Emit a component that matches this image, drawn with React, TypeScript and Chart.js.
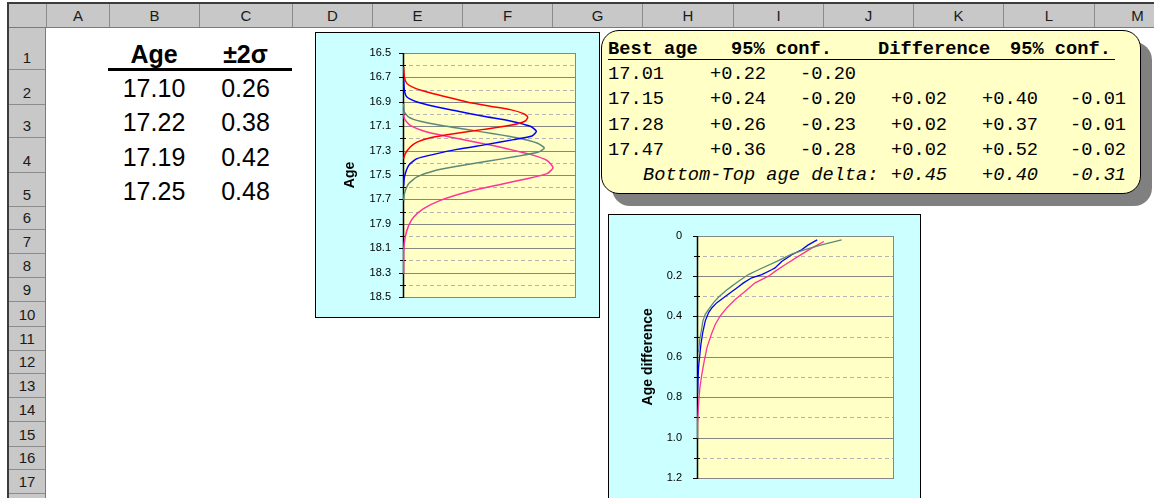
import React, { useEffect, useRef } from "react";
import { Chart, registerables } from "chart.js";

Chart.register(...registerables);

// ---------------- spreadsheet frame ----------------
const columnLetters = ["A", "B", "C", "D", "E", "F", "G", "H", "I", "J", "K", "L", "M"];
const rowNumbers = [1, 2, 3, 4, 5, 6, 7, 8, 9, 10, 11, 12, 13, 14, 15, 16, 17, 18];

// ---------------- left table ----------------
const tableHeaders = ["Age", "±2σ"];
const tableAges = ["17.10", "17.22", "17.19", "17.25"];
const tableSigmas = ["0.26", "0.38", "0.42", "0.48"];

// ---------------- text box ----------------
const boxHeaders = ["Best age", "95% conf.", "Difference", "95% conf."];
const bestAges = ["17.01", "17.15", "17.28", "17.47"];
const confPlus = ["+0.22", "+0.24", "+0.26", "+0.36"];
const confMinus = ["-0.20", "-0.20", "-0.23", "-0.28"];
const differences = ["", "+0.02", "+0.02", "+0.02"];
const diffConfPlus = ["", "+0.40", "+0.37", "+0.52"];
const diffConfMinus = ["", "-0.01", "-0.01", "-0.02"];
const deltaLabel = "Bottom-Top age delta:";
const deltaValues = ["+0.45", "+0.40", "-0.31"];

// ---------------- chart 1: age distributions ----------------
const ageAxisMin = 16.5;
const ageAxisMax = 18.5;
const ageAxisStep = 0.2;
const ageAxisTitle = "Age";

const redDensity = [0.004, 0.008, 0.023, 0.062, 0.139, 0.235, 0.37, 0.505, 0.62, 0.697, 0.721, 0.707, 0.62, 0.466, 0.293, 0.158, 0.081, 0.042, 0.013, 0.004];
const redAge = [16.615, 16.697, 16.751, 16.784, 16.82, 16.855, 16.902, 16.937, 16.964, 16.997, 17.025, 17.057, 17.093, 17.126, 17.161, 17.194, 17.23, 17.27, 17.325, 17.366];

const blueDensity = [0.004, 0.008, 0.023, 0.081, 0.177, 0.312, 0.466, 0.62, 0.736, 0.771, 0.746, 0.64, 0.486, 0.312, 0.177, 0.081, 0.033, 0.008, 0.004];
const blueAge = [16.71, 16.806, 16.861, 16.902, 16.937, 16.975, 17.019, 17.057, 17.101, 17.142, 17.18, 17.21, 17.249, 17.29, 17.331, 17.366, 17.421, 17.516, 17.585];

const greenDensity = [0.004, 0.008, 0.033, 0.1, 0.216, 0.37, 0.524, 0.659, 0.775, 0.817, 0.784, 0.659, 0.486, 0.312, 0.177, 0.081, 0.033, 0.008, 0.004];
const greenAge = [16.915, 16.984, 17.025, 17.06, 17.093, 17.128, 17.161, 17.194, 17.238, 17.279, 17.311, 17.347, 17.388, 17.429, 17.467, 17.516, 17.571, 17.653, 17.708];

const pinkDensity = [0.004, 0.008, 0.042, 0.139, 0.293, 0.466, 0.601, 0.736, 0.832, 0.867, 0.832, 0.717, 0.563, 0.37, 0.216, 0.119, 0.062, 0.033, 0.013, 0.004, 0.004];
const pinkAge = [16.97, 17.038, 17.093, 17.148, 17.194, 17.243, 17.284, 17.331, 17.38, 17.44, 17.489, 17.53, 17.577, 17.639, 17.708, 17.776, 17.844, 17.913, 18.008, 18.117, 18.309];

// ---------------- chart 2: age differences ----------------
const diffAxisMin = 0;
const diffAxisMax = 1.2;
const diffAxisStep = 0.2;
const diffAxisTitle = "Age difference";

const greenDiffX = [0.734, 0.632, 0.548, 0.481, 0.405, 0.312, 0.261, 0.211, 0.177, 0.143, 0.11, 0.084, 0.059, 0.042, 0.03, 0.022, 0.013, 0.008];
const greenDiffY = [0.021, 0.046, 0.07, 0.092, 0.128, 0.169, 0.193, 0.226, 0.25, 0.275, 0.304, 0.332, 0.365, 0.39, 0.422, 0.471, 0.52, 0.578];

const blueDiffX = [0.61, 0.565, 0.531, 0.481, 0.43, 0.396, 0.379, 0.329, 0.278, 0.236, 0.202, 0.169, 0.135, 0.101, 0.076, 0.059, 0.042, 0.029, 0.02, 0.013, 0.008, 0.005, 0.003];
const blueDiffY = [0.021, 0.046, 0.07, 0.095, 0.128, 0.16, 0.169, 0.193, 0.209, 0.234, 0.259, 0.283, 0.308, 0.332, 0.357, 0.381, 0.422, 0.48, 0.537, 0.602, 0.651, 0.717, 0.782];

const pinkDiffX = [0.644, 0.582, 0.514, 0.447, 0.396, 0.363, 0.295, 0.245, 0.194, 0.152, 0.118, 0.093, 0.073, 0.051, 0.037, 0.025, 0.015, 0.008, 0.003, 0.002];
const pinkDiffY = [0.029, 0.062, 0.103, 0.144, 0.177, 0.201, 0.234, 0.275, 0.316, 0.357, 0.398, 0.439, 0.488, 0.553, 0.619, 0.684, 0.75, 0.831, 0.93, 1.003];

// ---------------- styling ----------------
const SANS = '"Liberation Sans", Arial, sans-serif';
const MONO = '"Liberation Mono", "Courier New", monospace';
const RED = "#ff0000";
const BLUE = "#0000ff";
const GREEN = "#5b8a78";
const PINK = "#ff3399";
const CHART_BG = "#ccffff";
const PLOT_BG = "#ffffc6";
const HEADER_BG = "#c8c8c8";

const colEdges = [46, 109, 199, 292, 372, 462, 552, 642, 733, 823, 913, 1003, 1094, 1180];
const rowEdges = [28, 70, 105, 138, 173, 207, 230, 254, 278, 302, 327, 351, 374, 398, 422, 447, 470, 494, 518];

const excelPlugin = {
  id: "excelLook",
  beforeDraw(chart: any) {
    const { ctx, width, height } = chart;
    ctx.save();
    ctx.fillStyle = CHART_BG;
    ctx.fillRect(0, 0, width, height);
    ctx.strokeStyle = "#000";
    ctx.lineWidth = 1;
    ctx.strokeRect(0.5, 0.5, width - 1, height - 1);
    ctx.restore();
  },
  beforeDatasetsDraw(chart: any) {
    const { ctx, chartArea } = chart;
    const y = chart.scales.y;
    const L = Math.round(chartArea.left);
    const R = Math.round(chartArea.right);
    const T = Math.round(chartArea.top);
    const B = Math.round(chartArea.bottom);
    const major: number[] = y.ticks.map((t: any) => t.value);
    const minor: number[] = [];
    for (let i = 0; i < major.length - 1; i++) minor.push((major[i] + major[i + 1]) / 2);
    ctx.save();
    ctx.fillStyle = PLOT_BG;
    ctx.fillRect(L, T, R - L, B - T);
    ctx.lineWidth = 1;
    ctx.strokeStyle = "#b4b4b4";
    ctx.setLineDash([4, 3]);
    for (const v of minor) {
      const py = Math.round(y.getPixelForValue(v)) + 0.5;
      ctx.beginPath();
      ctx.moveTo(L + 6, py);
      ctx.lineTo(R, py);
      ctx.stroke();
    }
    ctx.setLineDash([]);
    ctx.strokeStyle = "#868686";
    for (const v of major) {
      const py = Math.round(y.getPixelForValue(v)) + 0.5;
      ctx.beginPath();
      ctx.moveTo(L, py);
      ctx.lineTo(R, py);
      ctx.stroke();
    }
    ctx.beginPath();
    ctx.moveTo(R - 0.5, T);
    ctx.lineTo(R - 0.5, B);
    ctx.stroke();
    ctx.strokeStyle = "#000";
    ctx.lineWidth = 1.5;
    ctx.beginPath();
    ctx.moveTo(L + 0.5, T);
    ctx.lineTo(L + 0.5, B + 1);
    ctx.stroke();
    ctx.lineWidth = 1;
    for (const v of major) {
      const py = Math.round(y.getPixelForValue(v)) + 0.5;
      ctx.beginPath();
      ctx.moveTo(L - 4, py);
      ctx.lineTo(L, py);
      ctx.stroke();
    }
    for (const v of minor) {
      const py = Math.round(y.getPixelForValue(v)) + 0.5;
      ctx.beginPath();
      ctx.moveTo(L - 3, py);
      ctx.lineTo(L + 3, py);
      ctx.stroke();
    }
    ctx.restore();
  },
};

type Series = { x: number[]; y: number[]; color: string };

function ExcelChart(props: {
  left: number;
  top: number;
  width: number;
  height: number;
  plot: { left: number; top: number; right: number; bottom: number };
  series: Series[];
  yMin: number;
  yMax: number;
  yStep: number;
  yTitle: string;
  titleOffset: number;
  tickPad: number;
  lineWidth: number;
  tension: number;
  fmt: (v: number) => string;
}) {
  const ref = useRef<HTMLCanvasElement>(null);
  useEffect(() => {
    const p = props;
    const chart = new Chart(ref.current as HTMLCanvasElement, {
      type: "scatter",
      data: {
        datasets: p.series.map((s) => ({
          data: s.x.map((xv, i) => ({ x: xv, y: s.y[i] })),
          borderColor: s.color,
          backgroundColor: s.color,
          borderWidth: p.lineWidth,
          showLine: true,
          pointRadius: 0,
          pointHoverRadius: 0,
          tension: p.tension,
          fill: false,
        })),
      },
      options: {
        responsive: false,
        animation: false,
        events: [],
        layout: {
          padding: {
            left: 0,
            top: p.plot.top,
            right: p.width - p.plot.right,
            bottom: p.height - p.plot.bottom,
          },
        },
        plugins: {
          legend: { display: false },
          tooltip: { enabled: false },
        },
        scales: {
          x: { type: "linear", min: 0, max: 1, display: false },
          y: {
            type: "linear",
            reverse: true,
            min: p.yMin,
            max: p.yMax,
            ticks: {
              stepSize: p.yStep,
              autoSkip: false,
              padding: p.tickPad,
              color: "#000",
              font: { family: SANS, size: 11 },
              callback: (v: any) => p.fmt(Number(v)),
            },
            grid: { display: false, drawTicks: false },
            border: { display: false },
            title: {
              display: true,
              text: p.yTitle,
              color: "#000",
              font: { family: SANS, size: 14, weight: "bold" },
              padding: { top: p.titleOffset, bottom: 0 },
            },
            afterFit: (scale: any) => {
              scale.width = p.plot.left;
            },
          },
        },
      } as any,
      plugins: [excelPlugin],
    });
    return () => chart.destroy();
  }, []);
  return (
    <canvas
      ref={ref}
      width={props.width}
      height={props.height}
      style={{ position: "absolute", left: props.left, top: props.top, width: props.width, height: props.height }}
    />
  );
}

const abs = (s: React.CSSProperties): React.CSSProperties => ({ position: "absolute", ...s });

export default function App() {
  const boxRowTops = [65, 90, 116, 141];
  const boxCols = [608, 710, 800, 891, 982, 1070];
  const boxHeaderX = [608, 731, 878, 1010];
  const monoStyle: React.CSSProperties = {
    fontFamily: MONO,
    fontSize: 18.7,
    lineHeight: "19px",
    whiteSpace: "pre",
    color: "#000",
  };
  const tableTops = [76, 110, 145, 179];

  return (
    <div
      style={{
        position: "fixed",
        left: 0,
        top: 0,
        width: 1154,
        height: 498,
        overflow: "hidden",
        background: "#fff",
        fontFamily: SANS,
      }}
    >
      {/* column header band */}
      <div style={abs({ left: 9, top: 4, width: 1145, height: 24, background: HEADER_BG, borderBottom: "1px solid #7a7a7a", boxSizing: "border-box" })} />
      {columnLetters.map((c, i) => (
        <div
          key={c}
          style={abs({
            left: colEdges[i],
            top: 4,
            width: colEdges[i + 1] - colEdges[i],
            height: 23,
            borderLeft: "1px solid #8c8c8c",
            boxSizing: "border-box",
            display: "flex",
            alignItems: "center",
            justifyContent: "center",
            fontSize: 15,
            color: "#1a1a1a",
          })}
        >
          {c}
        </div>
      ))}
      {/* row header band */}
      <div style={abs({ left: 9, top: 28, width: 37, height: 470, background: HEADER_BG, borderRight: "1px solid #7a7a7a", boxSizing: "border-box" })} />
      {rowNumbers.map((r, i) => (
        <div
          key={r}
          style={abs({
            left: 9,
            top: rowEdges[i],
            width: 36,
            height: rowEdges[i + 1] - rowEdges[i],
            borderBottom: "1px solid #8c8c8c",
            boxSizing: "border-box",
            display: "flex",
            alignItems: "flex-end",
            justifyContent: "center",
            paddingBottom: 3,
            fontSize: 15,
            lineHeight: "17px",
            color: "#1a1a1a",
          })}
        >
          {r}
        </div>
      ))}
      {/* window frame */}
      <div style={abs({ left: 7, top: 2, width: 1147, height: 2, background: "#3c3c3c" })} />
      <div style={abs({ left: 7, top: 2, width: 2, height: 496, background: "#3c3c3c" })} />

      {/* left table */}
      {tableHeaders.map((h, i) => (
        <div
          key={h}
          style={abs({
            left: colEdges[1 + i],
            top: 42,
            width: colEdges[2 + i] - colEdges[1 + i],
            textAlign: "center",
            fontSize: 25,
            lineHeight: "25px",
            fontWeight: "bold",
            color: "#000",
          })}
        >
          {h}
        </div>
      ))}
      <div style={abs({ left: 108, top: 68, width: 184, height: 3, background: "#000" })} />
      {tableAges.map((a, i) => (
        <React.Fragment key={i}>
          <div style={abs({ left: colEdges[1], top: tableTops[i], width: colEdges[2] - colEdges[1], textAlign: "center", fontSize: 25, lineHeight: "25px", color: "#000" })}>{a}</div>
          <div style={abs({ left: colEdges[2], top: tableTops[i], width: colEdges[3] - colEdges[2], textAlign: "center", fontSize: 25, lineHeight: "25px", color: "#000" })}>{tableSigmas[i]}</div>
        </React.Fragment>
      ))}

      {/* chart 1 */}
      <ExcelChart
        left={315}
        top={32}
        width={285}
        height={286}
        plot={{ left: 88, top: 21, right: 261, bottom: 265 }}
        series={[
          { x: redDensity, y: redAge, color: RED },
          { x: blueDensity, y: blueAge, color: BLUE },
          { x: greenDensity, y: greenAge, color: GREEN },
          { x: pinkDensity, y: pinkAge, color: PINK },
        ]}
        yMin={ageAxisMin}
        yMax={ageAxisMax}
        yStep={ageAxisStep}
        yTitle={ageAxisTitle}
        titleOffset={27}
        tickPad={12}
        lineWidth={1.5}
        tension={0.2}
        fmt={(v) => v.toFixed(1)}
      />

      {/* text box */}
      <div
        style={abs({
          left: 601,
          top: 30,
          width: 540,
          height: 164,
          borderRadius: 18,
          border: "1.5px solid #000",
          background: PLOT_BG,
          boxShadow: "11px 12px 0 #808080",
          boxSizing: "border-box",
        })}
      />
      {boxHeaders.map((h, i) => (
        <div key={i} style={abs({ ...monoStyle, left: boxHeaderX[i], top: 40, fontWeight: "bold" })}>
          {h}
        </div>
      ))}
      <div style={abs({ left: 608, top: 59, width: 507, height: 1, background: "#000" })} />
      {bestAges.map((a, i) => {
        const vals = [a, confPlus[i], confMinus[i], differences[i], diffConfPlus[i], diffConfMinus[i]];
        return vals.map((v, j) =>
          v ? (
            <div key={`${i}-${j}`} style={abs({ ...monoStyle, left: boxCols[j], top: boxRowTops[i] })}>
              {v}
            </div>
          ) : null
        );
      })}
      <div style={abs({ ...monoStyle, left: 643, top: 166, fontStyle: "italic" })}>{deltaLabel}</div>
      {deltaValues.map((v, j) => (
        <div key={v + j} style={abs({ ...monoStyle, left: boxCols[3 + j], top: 166, fontStyle: "italic" })}>
          {v}
        </div>
      ))}

      {/* chart 2 */}
      <ExcelChart
        left={608}
        top={214}
        width={313}
        height={300}
        plot={{ left: 89, top: 20, right: 286, bottom: 264 }}
        series={[
          { x: greenDiffX, y: greenDiffY, color: GREEN },
          { x: blueDiffX, y: blueDiffY, color: BLUE },
          { x: pinkDiffX, y: pinkDiffY, color: PINK },
        ]}
        yMin={diffAxisMin}
        yMax={diffAxisMax}
        yStep={diffAxisStep}
        yTitle={diffAxisTitle}
        titleOffset={32}
        tickPad={15}
        lineWidth={1.3}
        tension={0}
        fmt={(v) => (Math.abs(v) < 1e-9 ? "0" : v.toFixed(1))}
      />
    </div>
  );
}
